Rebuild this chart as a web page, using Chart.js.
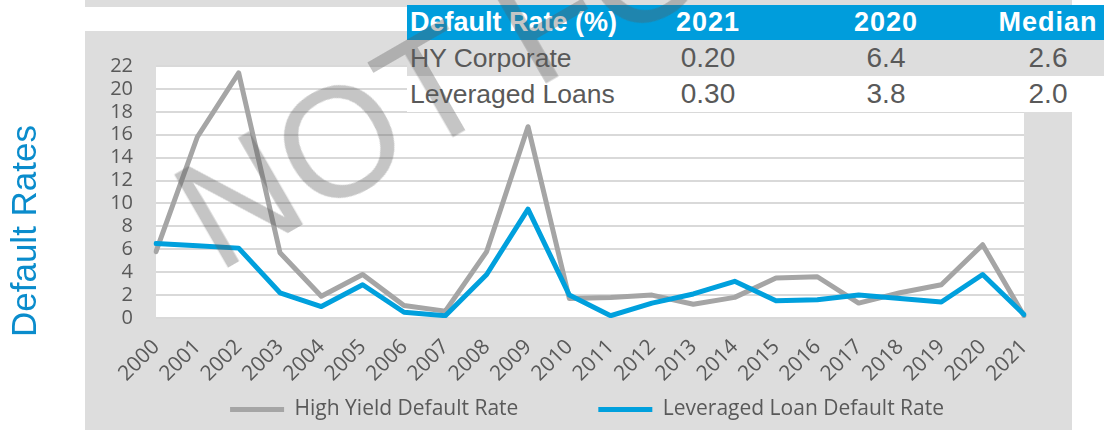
<!DOCTYPE html>
<html>
<head>
<meta charset="utf-8">
<script src="https://cdn.jsdelivr.net/npm/chart.js@4.4.1/dist/chart.umd.min.js"></script>
<style>
  html, body { margin:0; padding:0; background:#ffffff; width:1104px; height:430px; overflow:hidden; position:relative; }
  #strip { position:absolute; left:85px; top:0; width:987px; height:7px; background:#dddddd; }
  #box { position:absolute; left:85px; top:31px; width:987px; height:399px; background:#dddddd; }
  #box canvas { position:absolute; left:0; top:0; }
  #tbl { position:absolute; left:407px; top:5px; width:697px; font-family:'Liberation Sans', Arial, sans-serif; }
  .row { position:relative; width:697px; }
  .row.head { height:35px; line-height:35px; background:#009ddc; color:#ffffff; font-weight:bold; font-size:27px; }
  .row.r1 { height:36px; line-height:36px; background:#dddddd; color:#595959; font-size:26.5px; }
  .row.r2 { height:36px; line-height:36px; background:#ffffff; color:#595959; font-size:26.5px; }
  .cell { position:absolute; top:0; white-space:nowrap; }
  .cell.lab { left:3px; }
  .cell.num { width:160px; text-align:center; }
  .row.r1 .cell.num, .row.r2 .cell.num { font-size:28px; }
  .row.head .cell.num { letter-spacing:1px; }
  #ov { position:absolute; left:0; top:0; pointer-events:none; }
</style>
</head>
<body>
<div id="strip"></div>
<div id="box"><canvas id="c" width="987" height="399"></canvas></div>
<div id="tbl"></div>
<svg id="ov" width="1104" height="430" xmlns="http://www.w3.org/2000/svg">
  <text x="36" y="231" transform="rotate(-90 36 231)" text-anchor="middle" font-family="Liberation Sans, Arial, sans-serif" font-size="35" fill="#0a8ccc">Default Rates</text>
  <text x="217" y="274" transform="rotate(-30 217 274)" font-family="Liberation Sans, Arial, sans-serif" font-size="155" fill="#5a5a5a" fill-opacity="0.35">NOT FOR DISTRIBUTION</text>
</svg>
<script>
// ---- data ----
const years = ['2000','2001','2002','2003','2004','2005','2006','2007','2008','2009','2010',
               '2011','2012','2013','2014','2015','2016','2017','2018','2019','2020','2021'];
const hyDefaultRate = [5.8, 15.8, 21.4, 5.7, 1.9, 3.8, 1.1, 0.6, 5.8, 16.7, 1.7,
                       1.8, 2.0, 1.2, 1.8, 3.5, 3.6, 1.3, 2.2, 2.9, 6.4, 0.2];
const llDefaultRate = [6.5, 6.3, 6.1, 2.2, 1.0, 2.9, 0.5, 0.2, 3.8, 9.5, 2.0,
                       0.2, 1.3, 2.1, 3.2, 1.5, 1.6, 2.0, 1.7, 1.4, 3.8, 0.3];
const seriesNames = ['High Yield Default Rate', 'Leveraged Loan Default Rate'];
const yMin = 0, yMax = 22, yStep = 2;

const tableHead = ['Default Rate (%)', '2021', '2020', 'Median'];
const hyRow = ['HY Corporate', '0.20', '6.4', '2.6'];
const llRow = ['Leveraged Loans', '0.30', '3.8', '2.0'];

// ---- table ----
const colCenters = [301, 479, 641];
function buildRow(cells, cls) {
  const row = document.createElement('div');
  row.className = 'row ' + cls;
  cells.forEach((t, i) => {
    const d = document.createElement('div');
    d.textContent = t;
    if (i === 0) { d.className = 'cell lab'; }
    else { d.className = 'cell num'; d.style.left = (colCenters[i - 1] - 80) + 'px'; }
    row.appendChild(d);
  });
  document.getElementById('tbl').appendChild(row);
}
buildRow(tableHead, 'head');
buildRow(hyRow, 'r1');
buildRow(llRow, 'r2');

// ---- chart ----
const whiteArea = {
  id: 'whiteArea',
  beforeDraw(chart) {
    const {ctx, chartArea: {left, top, right, bottom}} = chart;
    ctx.save();
    ctx.fillStyle = '#ffffff';
    ctx.fillRect(left, top, right - left, bottom - top);
    ctx.restore();
  }
};

const tickFont = {family: "'Open Sans', sans-serif", size: 20};
const xTickFont = {family: "'Open Sans', sans-serif", size: 21};

new Chart(document.getElementById('c'), {
  type: 'line',
  data: {
    labels: years,
    datasets: [
      { label: seriesNames[0], data: hyDefaultRate, borderColor: '#a5a5a5', backgroundColor: '#a5a5a5',
        borderWidth: 5, pointBorderWidth: 5, pointRadius: 0, tension: 0,
        borderCapStyle: 'round', borderJoinStyle: 'round', order: 1 },
      { label: seriesNames[1], data: llDefaultRate, borderColor: '#00a0dd', backgroundColor: '#00a0dd',
        borderWidth: 5, pointBorderWidth: 5, pointRadius: 0, tension: 0,
        borderCapStyle: 'round', borderJoinStyle: 'round', order: 0 }
    ]
  },
  options: {
    responsive: false,
    animation: false,
    devicePixelRatio: 1,
    layout: { padding: { top: 30, right: 48, left: 0, bottom: 0 } },
    plugins: {
      legend: {
        position: 'bottom',
        align: 'end',
        labels: {
          usePointStyle: true, pointStyle: 'line', pointStyleWidth: 54,
          padding: 80, color: '#595959',
          font: {family: "'Open Sans', sans-serif", size: 21},
          sort: (a, b) => a.datasetIndex - b.datasetIndex
        }
      },
      tooltip: { enabled: false }
    },
    scales: {
      x: {
        offset: false,
        grid: { display: false, drawTicks: false },
        border: { display: false },
        ticks: { color: '#595959', font: xTickFont, minRotation: 45, maxRotation: 45, autoSkip: false,
                 mirror: true, padding: -34.5, labelOffset: 18 },
        afterFit(s) { s.height = 1; }
      },
      y: {
        min: yMin, max: yMax,
        ticks: { stepSize: yStep, autoSkip: false, color: '#595959', font: tickFont, padding: 23 },
        grid: { color: '#d9d9d9', lineWidth: 2, drawTicks: false },
        border: { display: false },
        afterFit(s) { s.width = 71; }
      }
    }
  },
  plugins: [whiteArea]
});
</script>
</body>
</html>
